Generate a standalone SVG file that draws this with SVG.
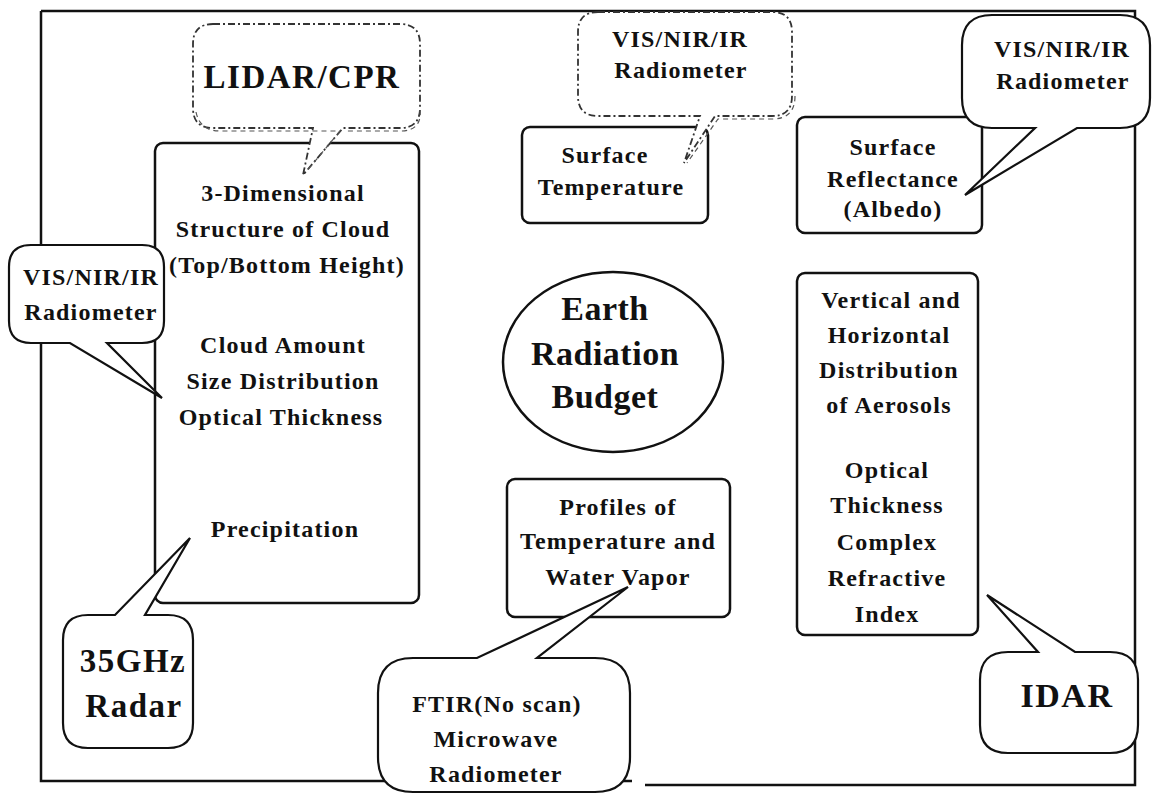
<svg xmlns="http://www.w3.org/2000/svg" width="1152" height="794" viewBox="0 0 1152 794">
<style>
  .bg { fill: #ffffff; }
  .frame { fill: none; stroke: #111; stroke-width: 2.5; }
  .box { fill: #ffffff; stroke: #111; stroke-width: 2.5; }
  .bubble { fill: #ffffff; stroke: #111; stroke-width: 2.2; stroke-linejoin: miter; }
  .dashed { fill: #ffffff; stroke: #333; stroke-width: 1.8; stroke-dasharray: 7 3 2 3; }
  .dashed2 { fill: none; stroke: #555; stroke-width: 1.2; stroke-dasharray: 5 4; }
  text { font-family: "Liberation Serif", "Times New Roman", serif; font-weight: bold; fill: #111; text-anchor: middle; }
  .t { font-size: 24px; letter-spacing: 1.2px; }
  .big { font-size: 33px; letter-spacing: 1.5px; }
  .earth { font-size: 34px; letter-spacing: 0.5px; }
</style>
<rect class="bg" x="0" y="0" width="1152" height="794"/>

<g id="frame">
  <path class="frame" d="M41,11 H1135 V785 H645 M632,781 H41 V11"/>
</g>

<g id="cloud-box">
  <rect class="box" x="155" y="143" width="264" height="460" rx="8"/>
  <text class="t" x="283" y="201">3-Dimensional</text>
  <text class="t" x="283" y="237">Structure of Cloud</text>
  <text class="t" x="287" y="273">(Top/Bottom Height)</text>
  <text class="t" x="283" y="353">Cloud Amount</text>
  <text class="t" x="283" y="389">Size Distribution</text>
  <text class="t" x="281" y="425">Optical Thickness</text>
  <text class="t" x="285" y="537">Precipitation</text>
</g>

<g id="surface-temperature">
  <rect class="box" x="522" y="127" width="186" height="96" rx="8"/>
  <text class="t" x="605" y="163">Surface</text>
  <text class="t" x="611" y="195">Temperature</text>
</g>

<g id="surface-reflectance">
  <rect class="box" x="797" y="117" width="185" height="116" rx="8"/>
  <text class="t" x="893" y="155">Surface</text>
  <text class="t" x="893" y="187">Reflectance</text>
  <text class="t" x="893" y="217">(Albedo)</text>
</g>

<g id="aerosols">
  <rect class="box" x="797" y="273" width="181" height="362" rx="8"/>
  <text class="t" x="891" y="308">Vertical and</text>
  <text class="t" x="889" y="343">Horizontal</text>
  <text class="t" x="889" y="378">Distribution</text>
  <text class="t" x="889" y="413">of Aerosols</text>
  <text class="t" x="887" y="478">Optical</text>
  <text class="t" x="887" y="513">Thickness</text>
  <text class="t" x="887" y="550">Complex</text>
  <text class="t" x="887" y="586">Refractive</text>
  <text class="t" x="887" y="622">Index</text>
</g>

<g id="profiles">
  <rect class="box" x="507" y="479" width="223" height="138" rx="8"/>
  <text class="t" x="618" y="515">Profiles of</text>
  <text class="t" x="618" y="549">Temperature and</text>
  <text class="t" x="618" y="585">Water Vapor</text>
</g>

<g id="earth-radiation-budget">
  <ellipse class="box" cx="613" cy="362" rx="110" ry="90"/>
  <text class="earth" x="605" y="320">Earth</text>
  <text class="earth" x="605" y="365">Radiation</text>
  <text class="earth" x="605" y="408">Budget</text>
</g>

<g id="connectors">
  <g id="bubble-lidar">
    <path class="dashed" d="M213,24 H400 Q420,24 420,44 V108 Q420,128 400,128 H343 L303,175 L313,128 H213 Q193,128 193,108 V44 Q193,24 213,24 Z"/>
    <path class="dashed2" d="M196,112 Q200,131 220,131 H340 L306,172 M420,110 Q422,130 402,131 H346"/>
    <text class="big" x="302" y="88">LIDAR/CPR</text>
  </g>
  <g id="bubble-vis-mid">
    <path class="dashed" d="M598,12 H772 Q792,12 792,32 V96 Q792,116 772,116 H715 L684,163 L700,116 H598 Q578,116 578,96 V32 Q578,12 598,12 Z"/>
    <path class="dashed2" d="M795,96 Q795,119 772,119 H718 L687,163"/>
    <text class="t" x="680" y="47">VIS/NIR/IR</text>
    <text class="t" x="681" y="78">Radiometer</text>
  </g>
  <g id="bubble-vis-right">
    <path class="bubble" d="M992,15 H1120 Q1150,15 1150,45 V98 Q1150,128 1120,128 H1077 L965,195 L1035,128 H992 Q962,128 962,98 V45 Q962,15 992,15 Z"/>
    <text class="t" x="1062" y="57">VIS/NIR/IR</text>
    <text class="t" x="1063" y="89">Radiometer</text>
  </g>
  <g id="bubble-vis-left">
    <path class="bubble" d="M31,245 H142 Q164,245 164,267 V321 Q164,343 142,343 H107 L162,398 L70,343 H31 Q9,343 9,321 V267 Q9,245 31,245 Z"/>
    <text class="t" x="91" y="285">VIS/NIR/IR</text>
    <text class="t" x="91" y="320">Radiometer</text>
  </g>
  <g id="bubble-radar">
    <path class="bubble" d="M88,615 H115 L190,538 L145,615 H168 Q193,615 193,640 V723 Q193,748 168,748 H88 Q63,748 63,723 V640 Q63,615 88,615 Z"/>
    <text class="big" x="133" y="672">35GHz</text>
    <text class="big" x="134" y="717">Radar</text>
  </g>
  <g id="bubble-ftir">
    <path class="bubble" d="M413,658 H477 L628,587 L537,658 H595 Q630,658 630,693 V757 Q630,792 595,792 H413 Q378,792 378,757 V693 Q378,658 413,658 Z"/>
    <text class="t" x="497" y="712">FTIR(No scan)</text>
    <text class="t" x="496" y="747">Microwave</text>
    <text class="t" x="496" y="782">Radiometer</text>
  </g>
  <g id="bubble-idar">
    <path class="bubble" d="M1008,652 H1038 L987,595 L1075,652 H1110 Q1138,652 1138,680 V725 Q1138,753 1110,753 H1008 Q980,753 980,725 V680 Q980,652 1008,652 Z"/>
    <text class="big" x="1067" y="707" style="font-size:34px">IDAR</text>
  </g>
</g>
</svg>
